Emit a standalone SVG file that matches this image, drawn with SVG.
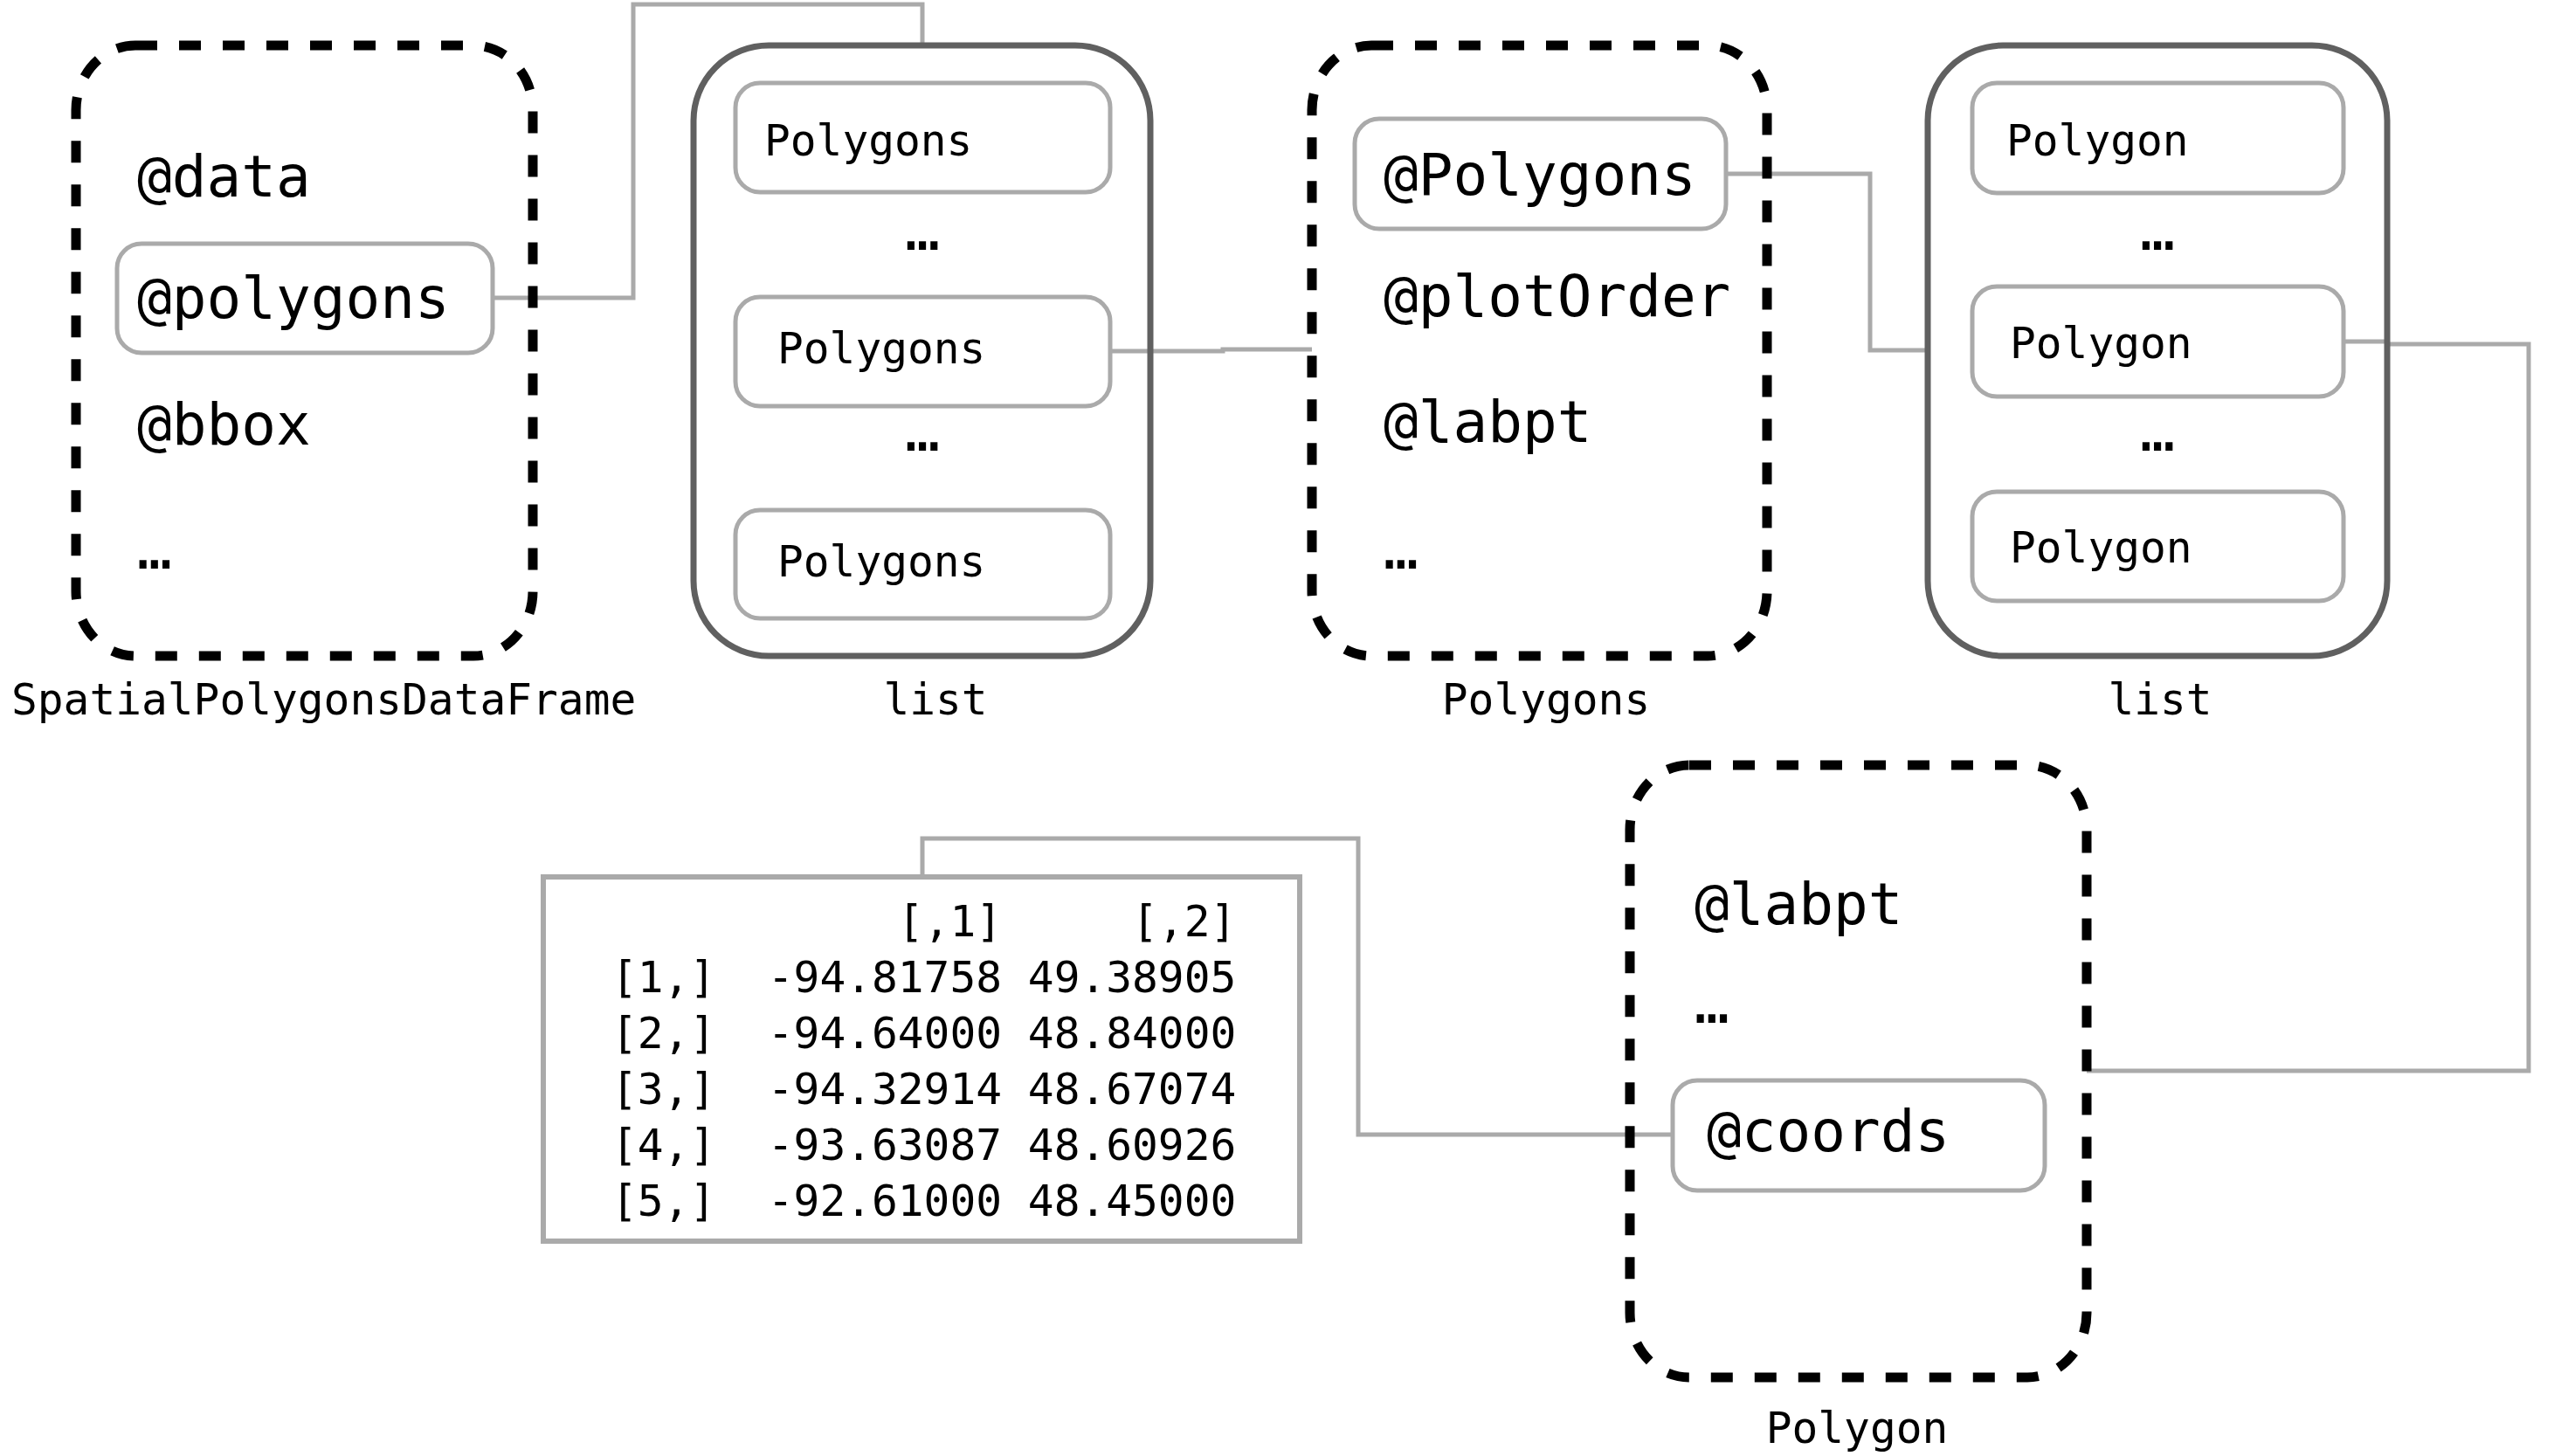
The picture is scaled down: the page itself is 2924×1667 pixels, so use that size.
<svg xmlns="http://www.w3.org/2000/svg" width="2924" height="1667" viewBox="0 0 2924 1667">
<style>
text{font-family:"DejaVu Sans Mono","Liberation Mono",monospace;fill:#000}
.big{font-size:66px}
.sm{font-size:49.5px}
.mid{text-anchor:middle}
.dash{fill:none;stroke:#000;stroke-width:11;stroke-dasharray:25 25}
.list{fill:none;stroke:#606060;stroke-width:7}
.slot{fill:#fff;stroke:#aaaaaa;stroke-width:5}
.conn{fill:none;stroke:#aaaaaa;stroke-width:5}
.pre{white-space:pre}
</style>
<rect width="2924" height="1667" fill="#fff"/>
<g id="connectors">
<path class="conn" d="M564 341 H725 V5 H1056 V52"/>
<path class="conn" d="M1271 402 H1400 V400 H1502"/>
<path class="conn" d="M1976 199 H2141 V401 H2207"/>
<path class="conn" d="M2683 391 H2733 V394 H2895 V1226 H2389"/>
<path class="conn" d="M1915 1299 H1555 V960 H1056 V1004"/>
</g>
<g id="spdf">
<rect class="dash" x="87" y="52" width="523" height="699" rx="68" ry="74"/>
<text class="big" x="157" y="225">@data</text>
<rect class="slot" x="134" y="279" width="430" height="125" rx="28"/>
<text class="big" x="157" y="364">@polygons</text>
<text class="big" x="157" y="509">@bbox</text>
<text class="big" x="157" y="651">…</text>
<text class="sm" x="13" y="818">SpatialPolygonsDataFrame</text>
</g>
<g id="list1">
<rect class="list" x="794" y="52" width="523" height="699" rx="86"/>
<rect class="slot" x="842" y="95" width="429" height="125" rx="28"/>
<text class="sm" x="875" y="178">Polygons</text>
<text class="big mid" x="1056" y="286">…</text>
<rect class="slot" x="842" y="340" width="429" height="125" rx="28"/>
<text class="sm" x="890" y="416">Polygons</text>
<text class="big mid" x="1056" y="516">…</text>
<rect class="slot" x="842" y="584" width="429" height="124" rx="28"/>
<text class="sm" x="890" y="660">Polygons</text>
<text class="sm mid" x="1071" y="818">list</text>
</g>
<g id="polygons">
<rect class="dash" x="1502" y="52" width="521" height="699" rx="68" ry="74"/>
<rect class="slot" x="1551" y="136" width="425" height="126" rx="28"/>
<text class="big" x="1584" y="223">@Polygons</text>
<text class="big" x="1584" y="362">@plotOrder</text>
<text class="big" x="1584" y="506">@labpt</text>
<text class="big" x="1584" y="651">…</text>
<text class="sm mid" x="1770" y="818">Polygons</text>
</g>
<g id="list2">
<rect class="list" x="2207" y="52" width="526" height="699" rx="86"/>
<rect class="slot" x="2258" y="95" width="425" height="126" rx="28"/>
<text class="sm" x="2297" y="178">Polygon</text>
<text class="big mid" x="2470" y="286">…</text>
<rect class="slot" x="2258" y="328" width="425" height="126" rx="28"/>
<text class="sm" x="2301" y="410">Polygon</text>
<text class="big mid" x="2470" y="516">…</text>
<rect class="slot" x="2258" y="563" width="425" height="125" rx="28"/>
<text class="sm" x="2301" y="644">Polygon</text>
<text class="sm mid" x="2473" y="818">list</text>
</g>
<g id="polygon">
<rect class="dash" x="1866" y="876" width="523" height="701" rx="68" ry="74"/>
<text class="big" x="1940" y="1058">@labpt</text>
<text class="big" x="1940" y="1171">…</text>
<rect class="slot" x="1915" y="1237" width="426" height="126" rx="28"/>
<text class="big" x="1954" y="1318">@coords</text>
<text class="sm mid" x="2126" y="1652">Polygon</text>
</g>
<g id="matrix">
<rect x="622" y="1004" width="866" height="417" fill="#fff" stroke="#aaaaaa" stroke-width="6"/>
<text class="sm pre" xml:space="preserve" x="700" y="1072">           [,1]     [,2]</text>
<text class="sm pre" xml:space="preserve" x="700" y="1136">[1,]  -94.81758 49.38905</text>
<text class="sm pre" xml:space="preserve" x="700" y="1200">[2,]  -94.64000 48.84000</text>
<text class="sm pre" xml:space="preserve" x="700" y="1264">[3,]  -94.32914 48.67074</text>
<text class="sm pre" xml:space="preserve" x="700" y="1328">[4,]  -93.63087 48.60926</text>
<text class="sm pre" xml:space="preserve" x="700" y="1392">[5,]  -92.61000 48.45000</text>
</g>
</svg>
